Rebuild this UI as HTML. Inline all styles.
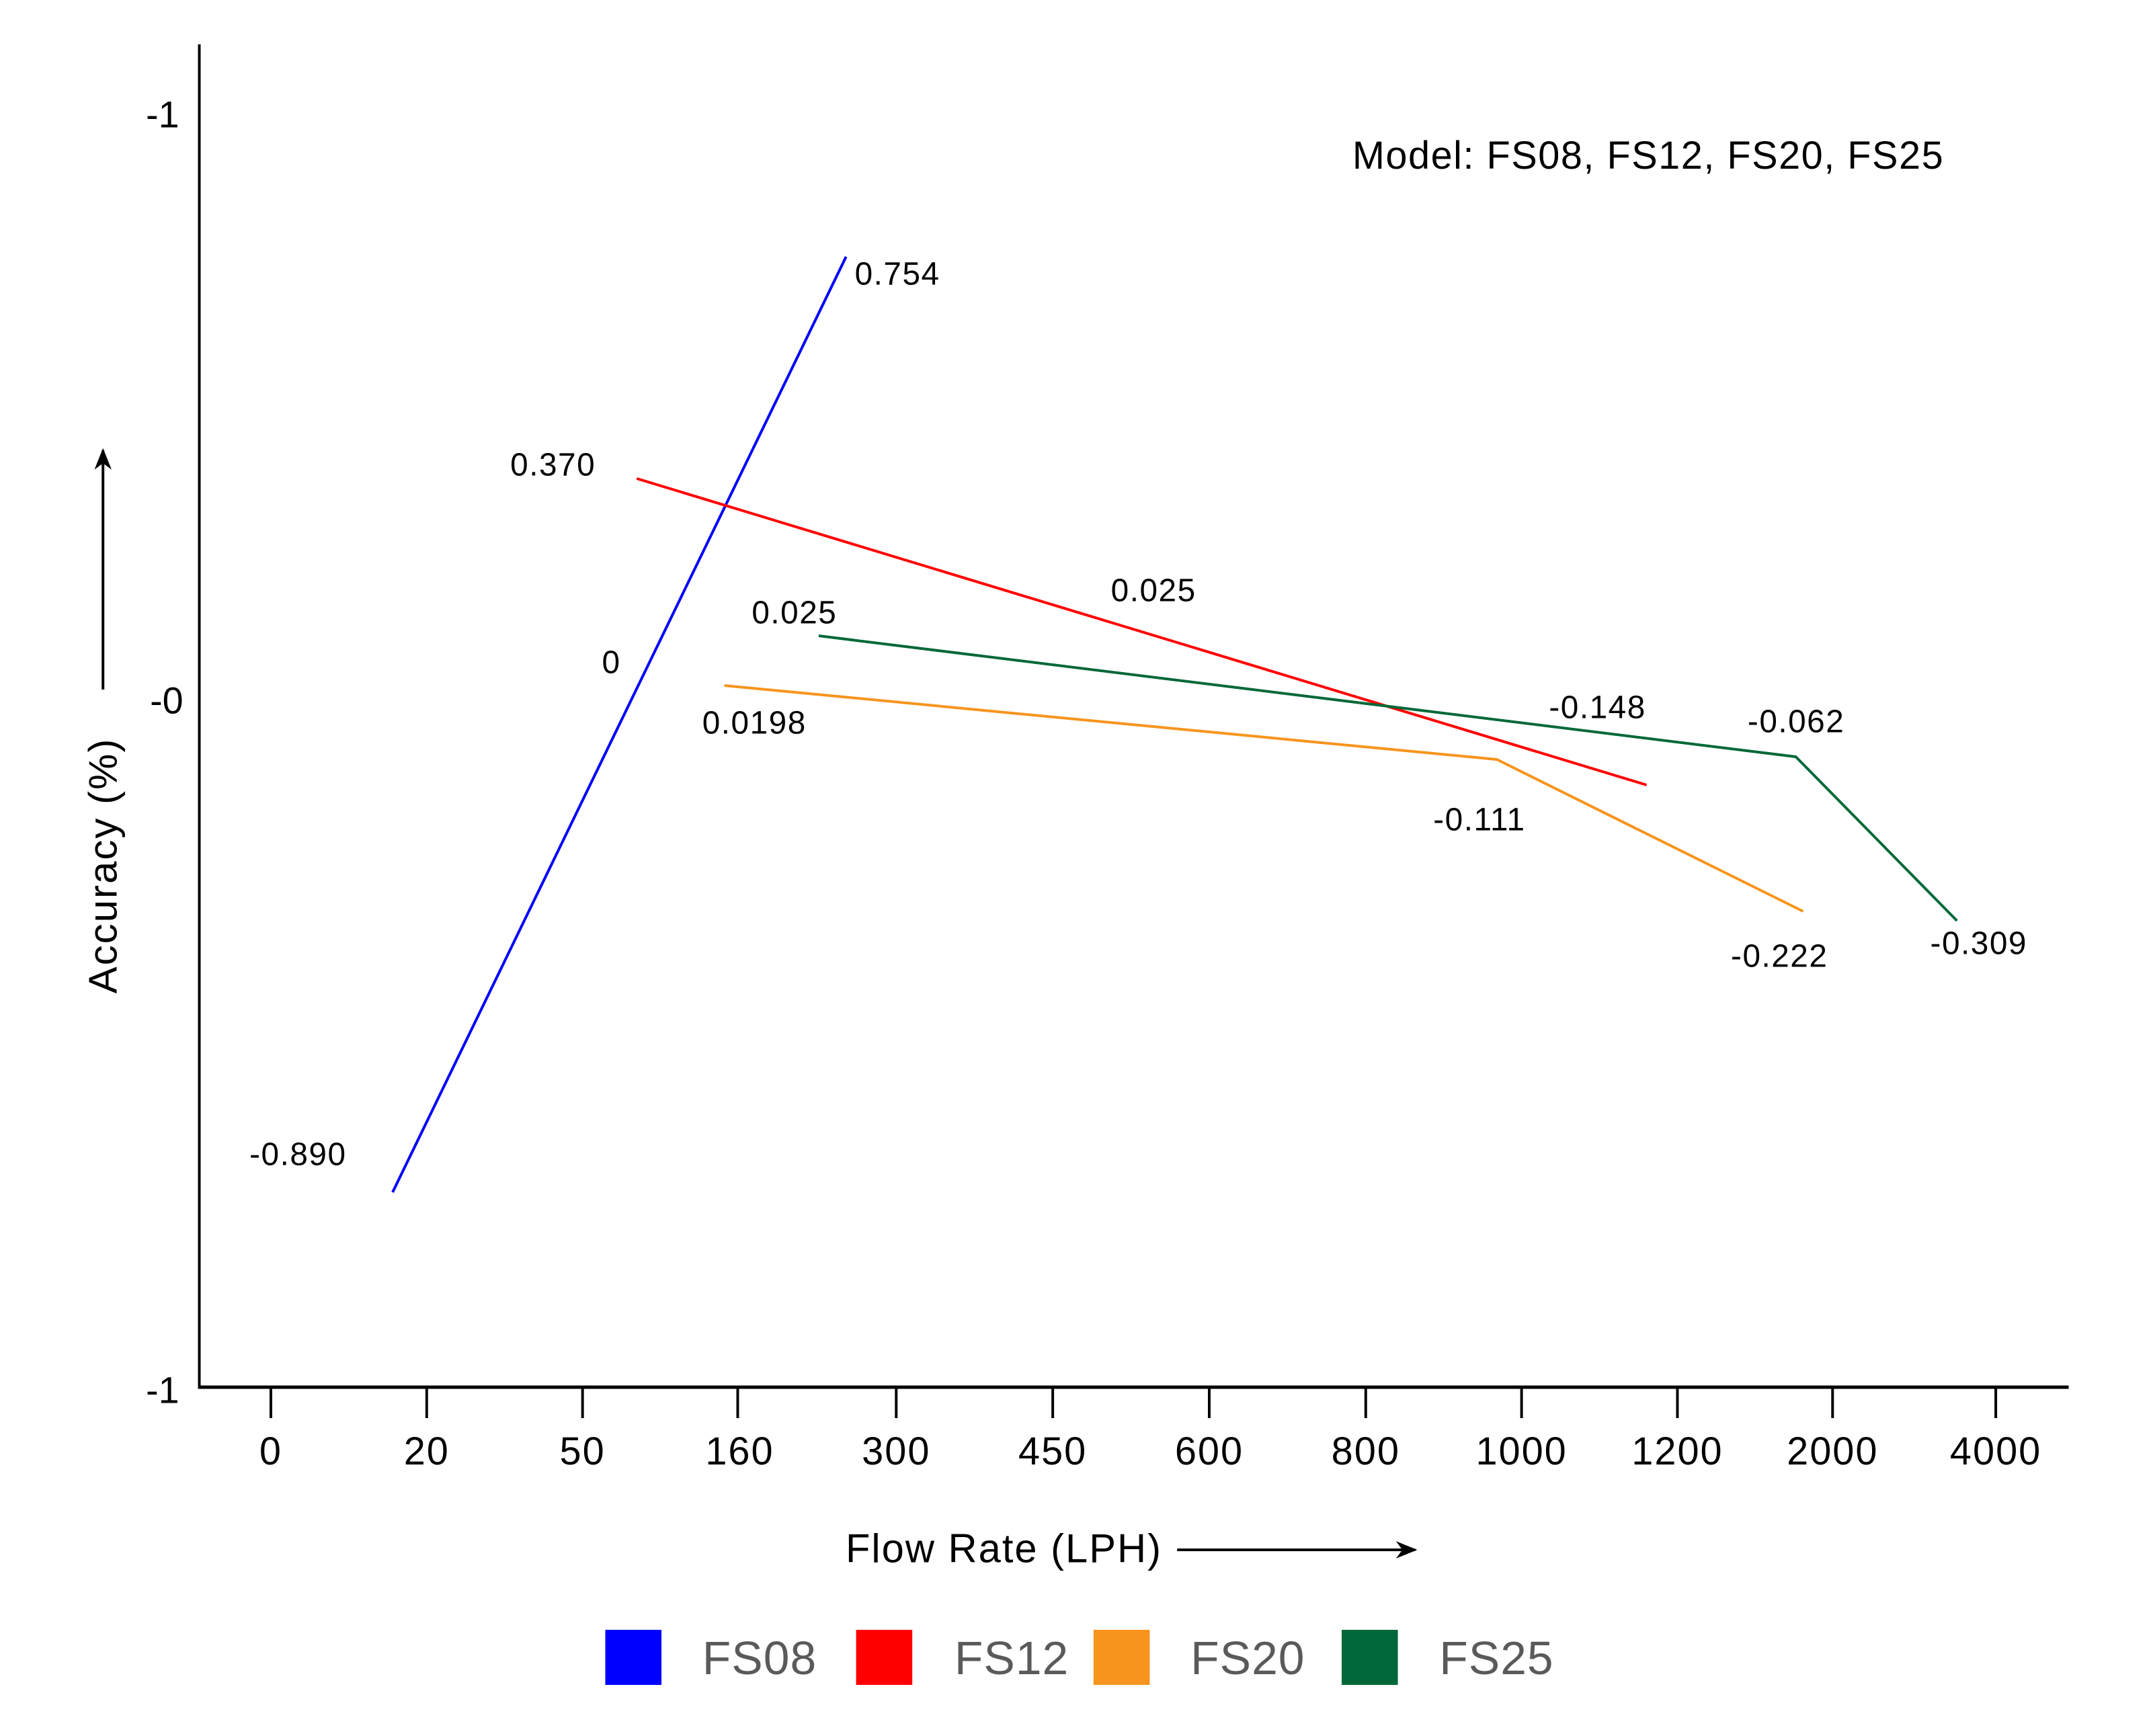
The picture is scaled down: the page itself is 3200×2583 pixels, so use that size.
<!DOCTYPE html>
<html><head><meta charset="utf-8"><style>
html,body{margin:0;padding:0;background:#fff;}
svg{display:block;font-family:"Liberation Sans",sans-serif;}
</style></head><body>
<svg width="3200" height="2583" viewBox="0 0 3200 2583" xmlns="http://www.w3.org/2000/svg">
<defs><marker id="ah" viewBox="0 0 10 10" refX="9" refY="5" markerWidth="8" markerHeight="8" orient="auto"><path d="M0,1 L10,5 L0,9 L3,5 z" fill="#000"/></marker></defs>
<g transform="scale(0.995,1)">
<!-- axes -->
<line x1="298" y1="66" x2="298" y2="2065" stroke="#000" stroke-width="4"/>
<line x1="296" y1="2064" x2="3093" y2="2064" stroke="#000" stroke-width="5"/>
<g stroke="#000" stroke-width="4">
<line x1="405" y1="2064" x2="405" y2="2110"/><line x1="638" y1="2064" x2="638" y2="2110"/>
<line x1="871" y1="2064" x2="871" y2="2110"/><line x1="1103" y1="2064" x2="1103" y2="2110"/>
<line x1="1340" y1="2064" x2="1340" y2="2110"/><line x1="1574" y1="2064" x2="1574" y2="2110"/>
<line x1="1808" y1="2064" x2="1808" y2="2110"/><line x1="2042" y1="2064" x2="2042" y2="2110"/>
<line x1="2275" y1="2064" x2="2275" y2="2110"/><line x1="2508" y1="2064" x2="2508" y2="2110"/>
<line x1="2740" y1="2064" x2="2740" y2="2110"/><line x1="2984" y1="2064" x2="2984" y2="2110"/>
</g>
<g font-size="58" letter-spacing="2" text-anchor="middle" dominant-baseline="central" fill="#000">
<text x="405" y="2160">0</text><text x="638" y="2160">20</text><text x="871" y="2160">50</text>
<text x="1106" y="2160">160</text><text x="1340" y="2160">300</text><text x="1574" y="2160">450</text>
<text x="1808" y="2160">600</text><text x="2042" y="2160">800</text><text x="2275" y="2160">1000</text>
<text x="2508" y="2160">1200</text><text x="2740" y="2160">2000</text><text x="2984" y="2160">4000</text>
</g>
<g font-size="56" text-anchor="end" dominant-baseline="central" fill="#000">
<text x="268" y="170">-1</text><text x="274" y="1042">-0</text><text x="268" y="2068">-1</text>
</g>
<!-- axis titles -->
<text x="1501" y="2304" font-size="60" letter-spacing="2" text-anchor="middle" dominant-baseline="central">Flow Rate (LPH)</text>
<line x1="1760" y1="2306" x2="2116" y2="2306" stroke="#000" stroke-width="4" marker-end="url(#ah)"/>
<text transform="translate(154,1288) rotate(-90)" font-size="60" letter-spacing="2" text-anchor="middle" dominant-baseline="central">Accuracy (%)</text>
<line x1="154" y1="1026" x2="154" y2="670" stroke="#000" stroke-width="4" marker-end="url(#ah)"/>
<text x="2022" y="232" font-size="58" letter-spacing="1.5" dominant-baseline="central">Model: FS08, FS12, FS20, FS25</text>
<!-- series -->
<g fill="none" stroke-width="4" stroke-linejoin="miter" transform="translate(0,-6)">
<polyline points="587,1780 1265,388" stroke="#0000ff"/>
<polyline points="952,718 2462,1174" stroke="#ff0000"/>
<polyline points="1083,1026 2238,1136 2696,1362" stroke="#f7941d"/>
<polyline points="1224,952 2685,1132 2926,1376" stroke="#006838"/>
</g>
<g font-size="48" letter-spacing="1.5" dominant-baseline="central" fill="#000">
<text x="1278" y="408">0.754</text><text x="763" y="692">0.370</text><text x="1661" y="879">0.025</text>
<text x="1124" y="912">0.025</text><text x="900" y="986">0</text><text x="1050" y="1076">0.0198</text>
<text x="2316" y="1053">-0.148</text><text x="2613" y="1074">-0.062</text><text x="2143" y="1220">-0.111</text>
<text x="2588" y="1423">-0.222</text><text x="2886" y="1404">-0.309</text><text x="373" y="1718">-0.890</text>
</g>
<!-- legend -->
<rect x="905" y="2425" width="84" height="82" fill="#0000ff"/>
<rect x="1280" y="2425" width="84" height="82" fill="#ff0000"/>
<rect x="1635" y="2425" width="84" height="82" fill="#f7941d"/>
<rect x="2006" y="2425" width="84" height="82" fill="#006838"/>
<g font-size="70" letter-spacing="1" fill="#5a5a5a" dominant-baseline="central">
<text x="1050" y="2467">FS08</text><text x="1427" y="2467">FS12</text>
<text x="1780" y="2467">FS20</text><text x="2152" y="2467">FS25</text>
</g>
</g>
</svg>
</body></html>
